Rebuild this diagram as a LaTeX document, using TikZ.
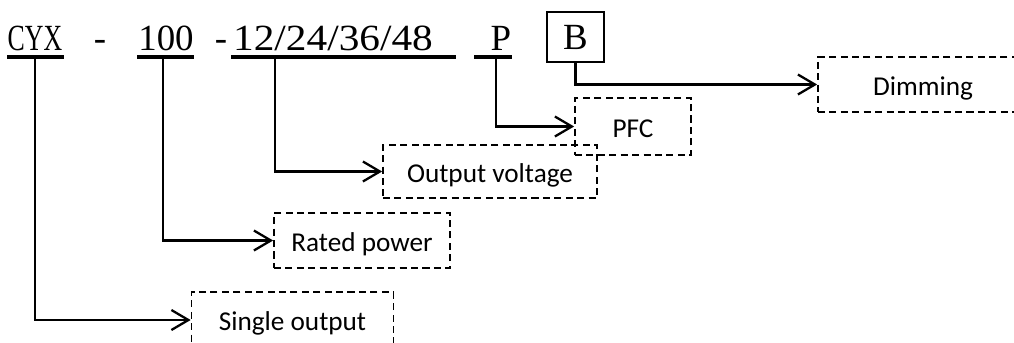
\documentclass[tikz,border=0pt]{standalone}
\usepackage{fontspec}
\usepackage{graphicx}
\setmainfont{Carlito}
\newfontfamily\codefont{Liberation Serif}
\usetikzlibrary{arrows.meta}

\begin{document}
\begin{tikzpicture}[
    x=0.02cm, y=-0.02cm,
    every node/.style={font=\fontsize{15.5}{18}\selectfont},
    code/.style={font=\codefont\fontsize{21}{24}\selectfont, inner sep=0pt, anchor=base},
    codebox/.style={code, anchor=center, draw, line width=1.2pt, minimum width=1.14cm, minimum height=1cm},
    field/.style={draw, dash pattern=on 4pt off 2.5pt, line width=1pt, inner sep=0pt, text height=12pt, text depth=0pt},
    uline/.style={line width=1.9pt},
    lead/.style={-{Straight Barb[length=3.4mm, width=4mm]}, line width=1.3pt}
]

\useasboundingbox (0,0) rectangle (1014,342);

% Model code
\node[code] (cyx) at (35,50) {\scalebox{0.7}[1]{CYX}};
\node[code] (dasha) at (100,50) {-};
\node[code] (power) at (166,50) {100};
\node[code] (dashb) at (221,50) {-};
\node[code] (volt) at (333,50) {\scalebox{1.12}[1]{12/24/36/48}};
\node[code] (pf) at (501,50) {P};
\node[codebox] (dim) at (575.5,37) {B};

% Underlines
\draw[uline] (7,57) -- (64,57);
\draw[uline] (137,57) -- (194,57);
\draw[uline] (231,57) -- (456,57);
\draw[uline] (474,57) -- (512,57);

% Taps on the underlines
\coordinate (cyx-tap) at (35,57);
\coordinate (power-tap) at (163,57);
\coordinate (volt-tap) at (275,57);
\coordinate (pf-tap) at (496,57);

% Meaning of each field
\node[field, minimum width=4.04cm, minimum height=1.12cm] (single) at (292.5,320) {Single output};
\node[field, minimum width=3.52cm, minimum height=1.1cm] (rated) at (362,240.5) {Rated power};
\node[field, minimum width=4.28cm, minimum height=1.06cm] (output) at (490,171.5) {Output voltage};
\node[field, minimum width=2.32cm, minimum height=1.14cm] (pfc) at (633,126.5) {PFC};
\node[field, minimum width=4.2cm, minimum height=1.1cm] (dimming) at (923,84.5) {Dimming};

% Leads
\draw[lead] (cyx-tap) |- (single.west);
\draw[lead] (power-tap) |- (rated.west);
\draw[lead] (volt-tap) |- (output.west);
\draw[lead] (pf-tap) |- (pfc.west);
\draw[lead] (dim.south) |- (dimming.west);

\end{tikzpicture}
\end{document}
